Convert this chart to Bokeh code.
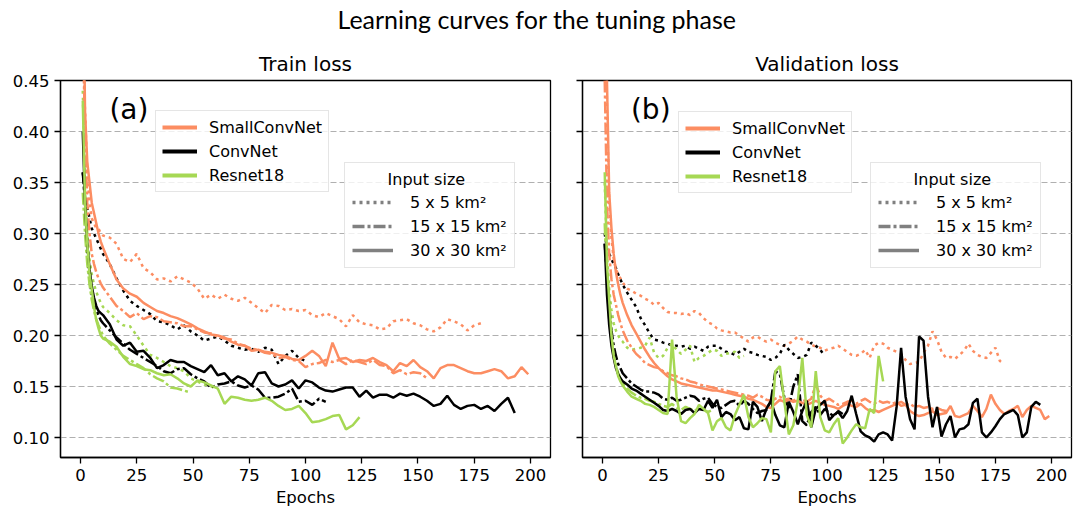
from bokeh.plotting import figure
from bokeh.models import Range1d, FixedTicker, Legend, LegendItem, Label, PrintfTickFormatter
from bokeh.layouts import column, row
from bokeh.embed import file_html
from bokeh.resources import INLINE

# ---------------- data ----------------
MODELS = ["SmallConvNet", "ConvNet", "Resnet18"]
SIZES = ["5 x 5 km²", "15 x 15 km²", "30 x 30 km²"]
COLORS = {"SmallConvNet": "#fc8d62", "ConvNet": "#000000", "Resnet18": "#a6d854"}
DASHES = {"5 x 5 km²": "3 4", "15 x 15 km²": "12 3 3 3", "30 x 30 km²": "solid"}

EP_T = [1, 2, 3, 4, 5, 6, 7, 8, 9, 10] + list(range(13, 200, 3))
EP_V = [1, 2, 3, 4, 5, 6, 7, 8, 9] + list(range(11, 200, 2))

# ---- train loss ----
tr_sc5 = [0.50, 0.42, 0.36, 0.33, 0.315, 0.31, 0.305, 0.305, 0.30, 0.298,
          0.296, 0.29, 0.275, 0.272, 0.28, 0.266, 0.262, 0.255, 0.256, 0.253,
          0.258, 0.255, 0.252, 0.246, 0.236, 0.24, 0.236, 0.24, 0.236, 0.234,
          0.237, 0.232, 0.227, 0.222, 0.23, 0.229, 0.225, 0.226, 0.224, 0.225,
          0.22, 0.218, 0.222, 0.219, 0.216, 0.209, 0.22, 0.213, 0.211, 0.21,
          0.206, 0.207, 0.214, 0.215, 0.216, 0.212, 0.21, 0.206, 0.204, 0.208,
          0.216, 0.214, 0.211, 0.205, 0.21, 0.212]
tr_sc15 = [0.50, 0.40, 0.33, 0.30, 0.28, 0.27, 0.262, 0.256, 0.251, 0.247,
           0.238, 0.229, 0.224, 0.218, 0.222, 0.216, 0.219, 0.218, 0.214, 0.213,
           0.212, 0.209, 0.209, 0.206, 0.203, 0.202, 0.199, 0.197, 0.196, 0.192,
           0.19, 0.187, 0.186, 0.183, 0.182, 0.178, 0.179, 0.176, 0.175, 0.169,
           0.172, 0.173, 0.176, 0.174, 0.176, 0.172, 0.176, 0.174, 0.172, 0.176,
           0.171, 0.17, 0.163, 0.166, 0.162, 0.164, 0.163, 0.158]
tr_sc30 = [0.60, 0.42, 0.37, 0.35, 0.33, 0.32, 0.31, 0.30, 0.292, 0.286,
           0.27, 0.255, 0.246, 0.241, 0.238, 0.232, 0.228, 0.224, 0.222, 0.219,
           0.217, 0.214, 0.211, 0.207, 0.204, 0.201, 0.2, 0.198, 0.194, 0.191,
           0.19, 0.185, 0.186, 0.184, 0.183, 0.181, 0.18, 0.177, 0.176, 0.18,
           0.185, 0.18, 0.17, 0.193, 0.177, 0.178, 0.174, 0.176, 0.175, 0.178,
           0.174, 0.171, 0.165, 0.173, 0.17, 0.176, 0.169, 0.165, 0.158, 0.168,
           0.171, 0.171, 0.168, 0.165, 0.163, 0.163, 0.165, 0.167, 0.165, 0.158,
           0.16, 0.169, 0.162]
tr_cn5 = [0.36, 0.335, 0.325, 0.315, 0.305, 0.30, 0.295, 0.29, 0.285, 0.28,
          0.27, 0.256, 0.244, 0.234, 0.229, 0.225, 0.221, 0.214, 0.213, 0.21,
          0.206, 0.21, 0.204, 0.2, 0.195, 0.197, 0.199, 0.195, 0.19, 0.188,
          0.186, 0.187, 0.184, 0.188, 0.186, 0.172, 0.18, 0.185, 0.178, 0.175]
tr_cn15 = [0.36, 0.33, 0.28, 0.255, 0.24, 0.232, 0.225, 0.22, 0.215, 0.212,
           0.205, 0.198, 0.192, 0.186, 0.182, 0.178, 0.174, 0.17, 0.165, 0.163,
           0.167, 0.168, 0.162, 0.158, 0.155, 0.149, 0.152, 0.153, 0.155, 0.151,
           0.149, 0.151, 0.147, 0.139, 0.139, 0.14, 0.143, 0.148, 0.135, 0.136,
           0.132, 0.138, 0.135]
tr_cn30 = [0.40, 0.33, 0.29, 0.265, 0.248, 0.237, 0.229, 0.224, 0.222, 0.22,
           0.211, 0.196, 0.19, 0.193, 0.184, 0.185, 0.178, 0.168, 0.171, 0.176,
           0.174, 0.174, 0.17, 0.167, 0.164, 0.171, 0.161, 0.163, 0.155, 0.16,
           0.157, 0.151, 0.163, 0.164, 0.153, 0.15, 0.152, 0.156, 0.148, 0.156,
           0.154, 0.149, 0.146, 0.145, 0.147, 0.149, 0.149, 0.14, 0.146, 0.139,
           0.142, 0.142, 0.139, 0.143, 0.141, 0.143, 0.14, 0.136, 0.131, 0.133,
           0.141, 0.132, 0.128, 0.131, 0.132, 0.128, 0.131, 0.126, 0.133, 0.139,
           0.124]
tr_r5 = [0.44, 0.34, 0.30, 0.275, 0.26, 0.25, 0.243, 0.237, 0.232, 0.228,
         0.222, 0.215, 0.21, 0.209, 0.2, 0.19, 0.181, 0.178, 0.174, 0.17,
         0.168, 0.165, 0.158, 0.155, 0.152, 0.15, 0.148]
tr_r15 = [0.34, 0.30, 0.27, 0.25, 0.235, 0.224, 0.216, 0.21, 0.205, 0.2,
          0.192, 0.186, 0.18, 0.176, 0.172, 0.168, 0.162, 0.158, 0.155, 0.149,
          0.148, 0.146, 0.144]
tr_r30 = [0.43, 0.33, 0.29, 0.26, 0.245, 0.228, 0.215, 0.207, 0.2, 0.197,
          0.194, 0.189, 0.179, 0.172, 0.17, 0.167, 0.166, 0.163, 0.161, 0.162,
          0.158, 0.153, 0.15, 0.156, 0.154, 0.151, 0.148, 0.133, 0.14, 0.139,
          0.137, 0.136, 0.137, 0.139, 0.136, 0.131, 0.127, 0.128, 0.131, 0.124,
          0.115, 0.116, 0.118, 0.121, 0.122, 0.108, 0.112, 0.12]

# ---- validation loss ----
va_sc5 = [0.62, 0.42, 0.33, 0.295, 0.275, 0.265, 0.26, 0.256, 0.252,
          0.246, 0.244, 0.241, 0.239, 0.236, 0.234, 0.23, 0.232, 0.227, 0.223,
          0.222, 0.222, 0.221, 0.222, 0.22, 0.224, 0.222, 0.217, 0.213, 0.211,
          0.207, 0.205, 0.204, 0.203, 0.203, 0.2, 0.197, 0.194, 0.198, 0.199,
          0.196, 0.194, 0.196, 0.193, 0.191, 0.19, 0.192, 0.195, 0.199, 0.196,
          0.194, 0.191, 0.189, 0.188, 0.185, 0.187, 0.188, 0.19, 0.187, 0.184,
          0.181, 0.18, 0.182, 0.186, 0.178, 0.19, 0.193, 0.192, 0.188, 0.186,
          0.184, 0.182, 0.176, 0.172, 0.173, 0.174, 0.183, 0.19, 0.204, 0.196,
          0.184, 0.178, 0.179, 0.177, 0.181, 0.185, 0.192, 0.185, 0.181, 0.179,
          0.178, 0.183, 0.188, 0.175, 0.172]
va_sc15 = [0.45, 0.33, 0.28, 0.255, 0.24, 0.23, 0.22, 0.212, 0.205,
           0.195, 0.188, 0.182, 0.178, 0.173, 0.171, 0.169, 0.168, 0.165, 0.163,
           0.161, 0.16, 0.158, 0.157, 0.155, 0.154, 0.152, 0.151, 0.15, 0.149,
           0.148, 0.147, 0.146, 0.145, 0.144, 0.143, 0.142, 0.141, 0.139, 0.142,
           0.14, 0.137, 0.136, 0.138, 0.14, 0.137, 0.138, 0.136, 0.139, 0.137,
           0.135, 0.138, 0.152, 0.141, 0.136, 0.138, 0.135, 0.132, 0.133, 0.135,
           0.136, 0.133, 0.136, 0.138, 0.135, 0.133, 0.136, 0.134, 0.135, 0.133,
           0.135, 0.131, 0.132, 0.133, 0.13, 0.131, 0.129, 0.13, 0.128, 0.129,
           0.127, 0.126, 0.126]
va_sc30 = [0.62, 0.45, 0.34, 0.305, 0.28, 0.262, 0.25, 0.24, 0.232,
           0.22, 0.21, 0.202, 0.194, 0.186, 0.179, 0.173, 0.168, 0.164, 0.16,
           0.157, 0.155, 0.153, 0.152, 0.151, 0.15, 0.149, 0.148, 0.147, 0.146,
           0.146, 0.145, 0.144, 0.143, 0.142, 0.141, 0.14, 0.138, 0.137, 0.135,
           0.133, 0.13, 0.129, 0.133, 0.137, 0.135, 0.137, 0.135, 0.136, 0.134,
           0.132, 0.134, 0.136, 0.134, 0.132, 0.131, 0.13, 0.128, 0.131, 0.133,
           0.131, 0.13, 0.133, 0.129, 0.126, 0.127, 0.125, 0.127, 0.129, 0.131,
           0.133, 0.135, 0.132, 0.126, 0.123, 0.121, 0.122, 0.124, 0.126, 0.122,
           0.123, 0.124, 0.131, 0.121, 0.12, 0.122, 0.124, 0.131, 0.126, 0.12,
           0.128, 0.142, 0.133, 0.127, 0.123, 0.126, 0.128, 0.131, 0.12, 0.127,
           0.131, 0.129, 0.127, 0.118, 0.121]
va_cn5 = [0.30, 0.285, 0.28, 0.275, 0.27, 0.266, 0.26, 0.255, 0.25,
          0.242, 0.235, 0.228, 0.217, 0.21, 0.202, 0.196, 0.195, 0.193, 0.192,
          0.19, 0.19, 0.189, 0.19, 0.187, 0.189, 0.187, 0.185, 0.189, 0.19,
          0.19, 0.187, 0.184, 0.183, 0.181, 0.184, 0.187, 0.184, 0.183, 0.181,
          0.18, 0.179, 0.176, 0.178, 0.182, 0.191, 0.186, 0.182, 0.178, 0.179,
          0.181, 0.193, 0.19, 0.186, 0.18]
va_cn15 = [0.29, 0.26, 0.23, 0.205, 0.19, 0.18, 0.172, 0.168, 0.163,
           0.158, 0.153, 0.15, 0.147, 0.145, 0.145, 0.144, 0.142, 0.138, 0.137,
           0.139, 0.136, 0.137, 0.139, 0.141, 0.14, 0.136, 0.138, 0.139, 0.133,
           0.13, 0.129, 0.132, 0.135, 0.136, 0.131, 0.136, 0.133, 0.128, 0.124,
           0.126, 0.127, 0.136, 0.165, 0.162, 0.139, 0.129, 0.15, 0.162, 0.116,
           0.112, 0.125, 0.13, 0.122, 0.128, 0.124, 0.121, 0.126, 0.123]
va_cn30 = [0.29, 0.24, 0.21, 0.19, 0.178, 0.168, 0.162, 0.158, 0.155,
           0.152, 0.148, 0.146, 0.143, 0.14, 0.137, 0.134, 0.131, 0.127, 0.126,
           0.128, 0.126, 0.123, 0.127, 0.128, 0.124, 0.128, 0.127, 0.136, 0.129,
           0.137, 0.12, 0.125, 0.123, 0.117, 0.12, 0.109, 0.108, 0.135, 0.13,
           0.116, 0.128, 0.136, 0.122, 0.112, 0.11, 0.135, 0.125, 0.113, 0.126,
           0.136, 0.11, 0.128, 0.132, 0.136, 0.117, 0.122, 0.125, 0.119, 0.126,
           0.141, 0.123, 0.106, 0.102, 0.1, 0.096, 0.103, 0.105, 0.103, 0.097,
           0.13, 0.188, 0.14, 0.118, 0.108, 0.199, 0.195, 0.14, 0.11, 0.13,
           0.101, 0.113, 0.121, 0.1, 0.108, 0.109, 0.113, 0.134, 0.138, 0.105,
           0.1, 0.105, 0.111, 0.118, 0.123, 0.125, 0.127, 0.122, 0.1, 0.105,
           0.13, 0.135, 0.132]
va_r5 = [0.35, 0.28, 0.245, 0.225, 0.212, 0.205, 0.2, 0.196, 0.194,
         0.188, 0.186, 0.187, 0.188, 0.19, 0.198, 0.183, 0.178, 0.18, 0.188,
         0.192, 0.186, 0.182, 0.186, 0.19, 0.174, 0.178, 0.18, 0.183, 0.186,
         0.185, 0.18, 0.182, 0.183, 0.184, 0.178, 0.18]
va_r15 = [0.31, 0.25, 0.215, 0.195, 0.18, 0.17, 0.163, 0.158, 0.154,
          0.148, 0.144, 0.141, 0.139, 0.138, 0.136, 0.135, 0.133, 0.131, 0.13,
          0.133, 0.129, 0.127, 0.13, 0.128, 0.126, 0.129, 0.127, 0.125, 0.127]
va_r30 = [0.36, 0.27, 0.235, 0.2, 0.18, 0.17, 0.16, 0.155, 0.151,
          0.145, 0.14, 0.138, 0.136, 0.133, 0.132, 0.13, 0.127, 0.124, 0.123,
          0.196, 0.14, 0.116, 0.114, 0.119, 0.123, 0.132, 0.128, 0.124, 0.107,
          0.116, 0.119, 0.11, 0.107, 0.122, 0.132, 0.142, 0.12, 0.11, 0.114,
          0.119, 0.118, 0.105, 0.165, 0.17, 0.135, 0.103, 0.112, 0.136, 0.178,
          0.122, 0.11, 0.165, 0.12, 0.107, 0.105, 0.113, 0.119, 0.094, 0.1,
          0.107, 0.113, 0.11, 0.109, 0.128, 0.124, 0.18, 0.155]

TRAIN = {
    ("SmallConvNet", SIZES[0]): tr_sc5, ("ConvNet", SIZES[0]): tr_cn5, ("Resnet18", SIZES[0]): tr_r5,
    ("SmallConvNet", SIZES[1]): tr_sc15, ("ConvNet", SIZES[1]): tr_cn15, ("Resnet18", SIZES[1]): tr_r15,
    ("SmallConvNet", SIZES[2]): tr_sc30, ("ConvNet", SIZES[2]): tr_cn30, ("Resnet18", SIZES[2]): tr_r30,
}
VAL = {
    ("SmallConvNet", SIZES[0]): va_sc5, ("ConvNet", SIZES[0]): va_cn5, ("Resnet18", SIZES[0]): va_r5,
    ("SmallConvNet", SIZES[1]): va_sc15, ("ConvNet", SIZES[1]): va_cn15, ("Resnet18", SIZES[1]): va_r15,
    ("SmallConvNet", SIZES[2]): va_sc30, ("ConvNet", SIZES[2]): va_cn30, ("Resnet18", SIZES[2]): va_r30,
}

Y_TICKS = [0.10, 0.15, 0.20, 0.25, 0.30, 0.35, 0.40, 0.45]
X_TICKS = [0, 25, 50, 75, 100, 125, 150, 175, 200]
NAN = [float("nan")]

FONT = "DejaVu Sans"
NBSP = "\u00a0"


def style_legend(leg):
    leg.label_text_font = FONT
    leg.label_text_font_size = "16px"
    leg.label_text_baseline = "middle"
    leg.label_text_color = "black"
    leg.glyph_width = 35
    leg.glyph_height = 20
    leg.label_height = 20
    leg.label_standoff = 12
    leg.spacing = 4
    leg.padding = 6
    leg.margin = 0
    leg.border_line_color = "#cccccc"
    leg.border_line_width = 1
    leg.background_fill_color = "white"
    leg.background_fill_alpha = 0.8


def make_panel(title, data, grid, letter, left_border, right_border, show_ylabels, loc1, loc2):
    p = figure(frame_width=490 if show_ylabels else 489, frame_height=377,
               min_border_left=left_border, min_border_right=right_border,
               min_border_top=38, min_border_bottom=55,
               x_range=Range1d(-8.9, 208.9), y_range=Range1d(0.0804, 0.45),
               output_backend="svg", toolbar_location=None)
    p.title.text = title
    p.title.align = "center"
    p.title.text_font = FONT
    p.title.text_font_size = "20px"
    p.title.text_font_style = "normal"
    p.title.text_color = "black"
    p.title.standoff = 10

    p.outline_line_color = "black"
    p.outline_line_width = 1.3
    p.outline_line_alpha = 1
    p.xgrid.visible = False
    p.ygrid.ticker = FixedTicker(ticks=Y_TICKS)
    p.ygrid.grid_line_color = "#b0b0b0"
    p.ygrid.grid_line_dash = "6 3"
    p.ygrid.grid_line_width = 1.2

    for ax in (p.xaxis[0], p.yaxis[0]):
        ax.axis_line_color = "black"
        ax.axis_line_width = 1.3
        ax.major_tick_line_color = "black"
        ax.major_tick_line_width = 1.3
        ax.major_tick_out = 6
        ax.major_tick_in = 0
        ax.minor_tick_line_color = None
        ax.major_label_text_font = FONT
        ax.major_label_text_font_size = "16.5px"
        ax.major_label_text_color = "black"
        ax.major_label_standoff = 5
    p.xaxis.ticker = FixedTicker(ticks=X_TICKS)
    p.yaxis.ticker = FixedTicker(ticks=Y_TICKS)
    p.yaxis.formatter = PrintfTickFormatter(format="%.2f")
    if not show_ylabels:
        # ticks only, no tick labels (shared y axis)
        p.yaxis.major_label_text_font_size = "0px"
        p.yaxis.major_label_text_color = None
        p.yaxis.major_label_standoff = 0
    p.xaxis.axis_label = "Epochs"
    p.xaxis.axis_label_text_font = FONT
    p.xaxis.axis_label_text_font_size = "16.5px"
    p.xaxis.axis_label_text_font_style = "normal"
    p.xaxis.axis_label_text_color = "black"
    p.xaxis.axis_label_standoff = 4

    for size in SIZES:
        for m in MODELS:
            vals = data[(m, size)]
            p.line(grid[:len(vals)], vals, line_color=COLORS[m], line_width=2.5,
                   line_dash=DASHES[size])

    # model legend
    items1 = []
    for m in MODELS:
        r = p.line(NAN, NAN, line_color=COLORS[m], line_width=4)
        items1.append(LegendItem(label=m, renderers=[r]))
    leg1 = Legend(items=items1, location=loc1)
    style_legend(leg1)
    p.add_layout(leg1)

    # input-size legend
    items2 = []
    for s in SIZES:
        r = p.line(NAN, NAN, line_color="#808080", line_width=3.5, line_dash=DASHES[s])
        items2.append(LegendItem(label=s, renderers=[r]))
    leg2 = Legend(items=items2, location=loc2, title=NBSP * 7 + "Input size")
    style_legend(leg2)
    leg2.padding = 7
    leg2.glyph_width = 41
    leg2.label_standoff = 17
    leg2.title_text_font = FONT
    leg2.title_text_font_size = "16px"
    leg2.title_text_font_style = "normal"
    leg2.title_text_color = "black"
    leg2.title_standoff = 3
    p.add_layout(leg2)

    p.add_layout(Label(x=21.5, y=0.422, text=letter, text_align="center",
                       text_baseline="middle", text_font=FONT, text_font_size="28px",
                       text_color="black"))
    return p


p1 = make_panel("Train loss", TRAIN, EP_T, "(a)", 60, 16, True, (95, 265), (284, 189))
p2 = make_panel("Validation loss", VAL, EP_V, "(b)", 16, 2, False, (96, 264), (288, 189))

pt = figure(width=1073, height=42, x_range=Range1d(0, 1), y_range=Range1d(0, 1),
            x_axis_type=None, y_axis_type=None, min_border=0,
            output_backend="svg", toolbar_location=None)
pt.grid.visible = False
pt.outline_line_color = None
pt.add_layout(Label(x=0.5, y=0.57, text="Learning curves for the tuning phase",
                    text_align="center", text_baseline="middle", text_font="Lato",
                    text_font_size="25px", text_color="black"))

layout = column(pt, row(p1, p2, spacing=0), spacing=0)
open("out.html", "w").write(file_html(layout, INLINE))
